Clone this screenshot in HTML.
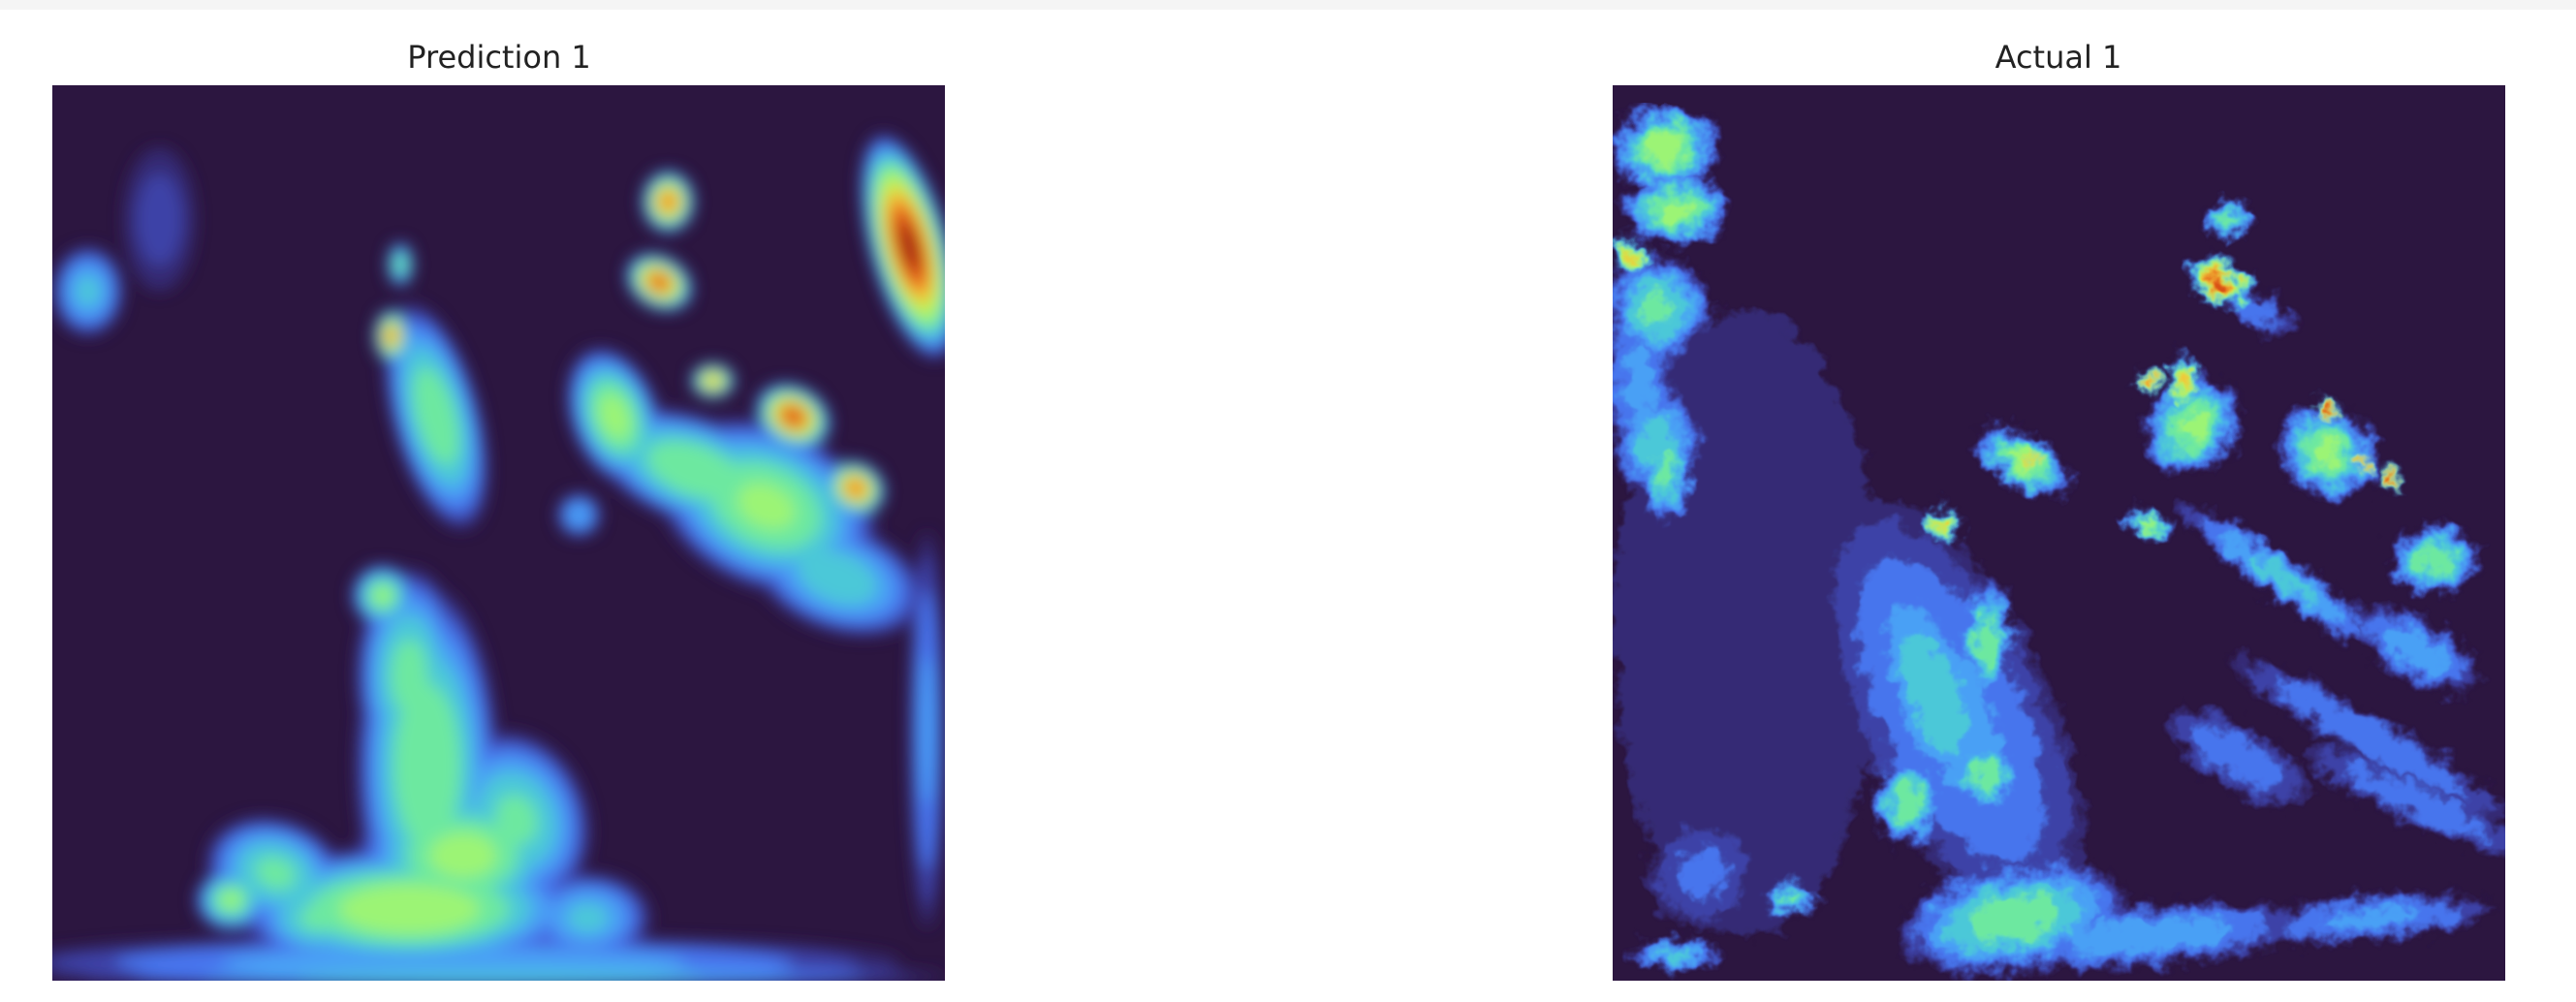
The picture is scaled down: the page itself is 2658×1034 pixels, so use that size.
<!DOCTYPE html>
<html><head><meta charset="utf-8"><style>
html,body{margin:0;padding:0;background:#fff;width:2658px;height:1034px;overflow:hidden}
#top{position:absolute;left:0;top:0;width:2658px;height:10px;background:#f5f5f5}
.t{position:absolute;font-family:"DejaVu Sans","Liberation Sans",sans-serif;font-size:32px;color:#222;transform:translateX(-50%);top:40px}
svg{position:absolute;top:0;left:0}
</style></head><body>
<div id="top"></div>
<div class="t" style="left:515px">Prediction 1</div>
<div class="t" style="left:2124px">Actual 1</div>
<svg id="chart" width="2658" height="1034">
<defs>
<filter id="blur" x="-20%" y="-20%" width="140%" height="140%"><feGaussianBlur stdDeviation="8"/></filter>
<filter id="rough" x="0" y="0" width="100%" height="100%">
<feTurbulence type="fractalNoise" baseFrequency="0.05" numOctaves="3" seed="4" result="n"/>
<feGaussianBlur in="SourceGraphic" stdDeviation="3" result="b"/>
<feDisplacementMap in="b" in2="n" scale="30" xChannelSelector="R" yChannelSelector="G"/>
</filter>
<clipPath id="c1"><rect x="54" y="88" width="921" height="924"/></clipPath>
<clipPath id="c2"><rect x="1664" y="88" width="921" height="924"/></clipPath>
</defs>
</svg>
<script>
// Prediction panel blobs (fractions of panel): centre x, centre y, radius x, radius y, angle, peak value
const predCx   =[0.45,0.42,0.40,0.20,0.37,0.43,0.38,0.39,0.80,0.63,0.83,0.90,0.74,0.69,0.68,0.96,0.04,0.98,0.88,0.59,0.12,0.50,0.46,0.30,0.60,0.72,0.40,0.52,0.25];
const predCy   =[0.98,0.76,0.92,0.91,0.57,0.37,0.28,0.20,0.47,0.37,0.37,0.45,0.33,0.13,0.22,0.18,0.23,0.72,0.55,0.48,0.15,0.995,0.86,0.93,0.93,0.43,0.66,0.82,0.88];
const predRx   =[0.50,0.08,0.20,0.04,0.035,0.05,0.02,0.015,0.13,0.05,0.045,0.035,0.025,0.03,0.04,0.045,0.04,0.02,0.10,0.025,0.04,0.5,0.12,0.08,0.07,0.12,0.06,0.08,0.08];
const predRy   =[0.03,0.20,0.07,0.035,0.035,0.13,0.03,0.025,0.09,0.08,0.035,0.03,0.02,0.035,0.03,0.13,0.05,0.22,0.06,0.025,0.08,0.012,0.08,0.05,0.05,0.06,0.12,0.1,0.06];
const predAng  =[0,0,0,0,0,-15,0,0,25,-20,30,30,0,0,30,-15,0,0,20,0,0,0,0,0,0,20,0,-20,20];
const predPeak =[0.35,0.58,0.66,0.6,0.6,0.56,0.9,0.55,0.6,0.62,0.97,0.93,0.85,0.92,0.95,1.02,0.4,0.3,0.45,0.35,0.12,0.45,0.62,0.5,0.4,0.58,0.52,0.5,0.5];
// Actual panel blobs
const actCx  =[0.15,0.06,0.07,0.02,0.05,0.05,0.06,0.03,0.38,0.36,0.42,0.46,0.47,0.37,0.45,0.6,0.85,0.85,0.9,0.7,0.69,0.68,0.72,0.6,0.65,0.64,0.8,0.8,0.87,0.84,0.75,0.92,0.6,0.9,0.2,0.07,0.33,0.42,0.10];
const actCy  =[0.6,0.07,0.14,0.19,0.25,0.4,0.43,0.33,0.7,0.68,0.62,0.42,0.42,0.49,0.93,0.95,0.93,0.73,0.8,0.75,0.15,0.22,0.25,0.33,0.38,0.33,0.41,0.36,0.44,0.42,0.55,0.53,0.49,0.63,0.91,0.97,0.8,0.77,0.88];
const actRx  =[0.15,0.06,0.06,0.02,0.06,0.05,0.03,0.04,0.11,0.06,0.03,0.06,0.01,0.02,0.13,0.18,0.14,0.18,0.14,0.09,0.03,0.04,0.05,0.015,0.05,0.02,0.06,0.015,0.015,0.01,0.14,0.05,0.03,0.08,0.03,0.05,0.04,0.04,0.06];
const actRy  =[0.35,0.05,0.04,0.02,0.06,0.06,0.06,0.1,0.26,0.16,0.07,0.03,0.01,0.02,0.06,0.035,0.025,0.025,0.025,0.035,0.02,0.025,0.02,0.015,0.06,0.03,0.05,0.015,0.015,0.01,0.025,0.04,0.015,0.035,0.02,0.02,0.05,0.04,0.06];
const actAng =[0,0,0,0,0,0,0,0,-25,-20,0,30,0,0,-10,-5,-5,30,25,30,0,30,30,0,40,0,30,0,0,0,35,0,20,30,0,0,0,0,0];
const actPeak=[0.08,0.65,0.6,0.8,0.5,0.45,0.5,0.3,0.3,0.45,0.55,0.6,0.85,0.8,0.55,0.35,0.3,0.28,0.25,0.25,0.5,1.0,0.25,0.9,0.6,0.85,0.6,1.0,1.0,0.9,0.4,0.55,0.6,0.35,0.5,0.4,0.55,0.55,0.2];

const stops=[[0,[44,22,64]],[0.1,[58,55,150]],[0.2,[70,117,237]],[0.3,[72,160,245]],[0.4,[76,200,216]],[0.5,[109,232,160]],[0.6,[156,244,116]],[0.7,[196,238,80]],[0.8,[240,200,58]],[0.88,[244,138,40]],[0.95,[216,80,24]],[1.05,[138,20,8]]];
function color(v){
  for(let i=1;i<stops.length;i++){
    if(v<=stops[i][0]){
      const a=stops[i-1],b=stops[i],t=(v-a[0])/(b[0]-a[0]);
      const c=a[1].map((x,k)=>Math.round(x+(b[1][k]-x)*t));
      return 'rgb('+c.join(',')+')';
    }
  }
  return 'rgb(138,20,8)';
}
const svg=document.getElementById('chart');
const NS='http://www.w3.org/2000/svg';
function panel(x0,name,clip,filt,cx,cy,rx,ry,ang,peak){
  const W=921,H=924,y0=88;
  const g=document.createElementNS(NS,'g');
  
  
  g.setAttribute('clip-path','url(#'+clip+')');
  svg.appendChild(g);
  const bg=document.createElementNS(NS,'rect');
  bg.setAttribute('x',x0);bg.setAttribute('y',y0);bg.setAttribute('width',W);bg.setAttribute('height',H);bg.setAttribute('fill','#2c1640');
  
  
  g.appendChild(bg);
  const inner=document.createElementNS(NS,'g');
  inner.setAttribute('filter','url(#'+filt+')');
  g.appendChild(inner);
  const levels=[0.06,0.12,0.2,0.3,0.4,0.5,0.6,0.7,0.8,0.88,0.95,1.02];
  levels.forEach(L=>{
    for(let i=0;i<cx.length;i++){
      if(peak[i]<L)continue;
      const s=Math.sqrt(Math.max(0.02,1-(L-0.06)/(peak[i]-0.02)));
      const e=document.createElementNS(NS,'ellipse');
      const px=x0+cx[i]*W,py=y0+cy[i]*H;
      e.setAttribute('cx',px);e.setAttribute('cy',py);
      e.setAttribute('rx',Math.max(2,rx[i]*W*s));e.setAttribute('ry',Math.max(2,ry[i]*H*s));
      e.setAttribute('transform','rotate('+ang[i]+' '+px+' '+py+')');
      e.setAttribute('fill',color(L));
      
      
      inner.appendChild(e);
    }
  });
}
panel(54,'prediction-heatmap','c1','blur',predCx,predCy,predRx,predRy,predAng,predPeak);
panel(1664,'actual-heatmap','c2','rough',actCx,actCy,actRx,actRy,actAng,actPeak);
</script>
</body></html>
